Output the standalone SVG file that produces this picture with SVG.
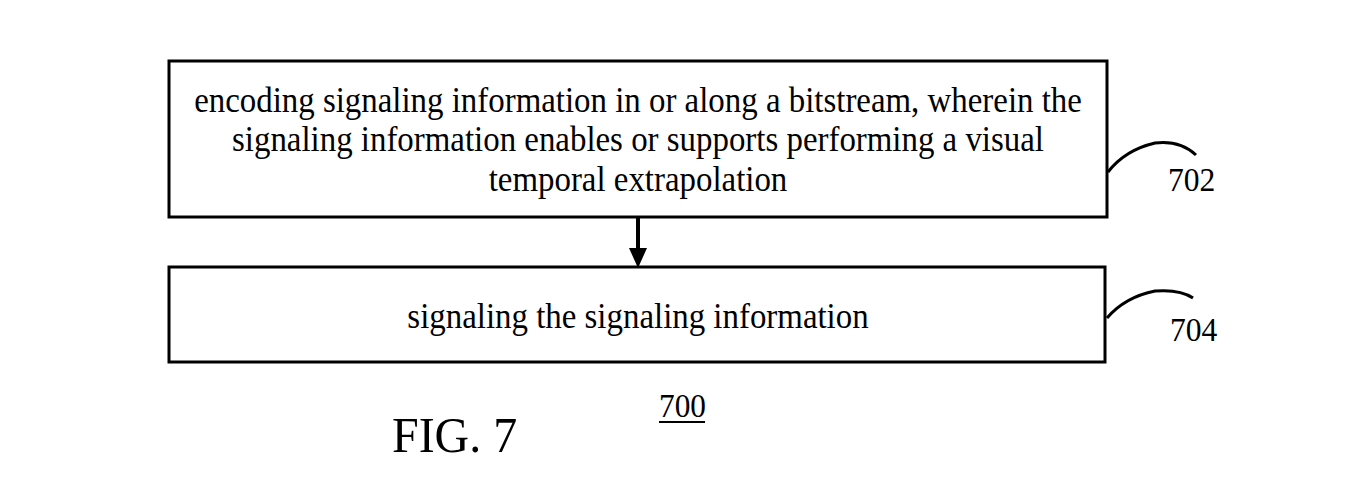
<svg xmlns="http://www.w3.org/2000/svg" width="1355" height="478" viewBox="0 0 1355 478">
<defs>
<style>
.box{fill:#fff;stroke:#000;stroke-width:3}
.t{font-family:"Liberation Serif",serif;font-size:35px;fill:#000;text-anchor:middle}
.n{font-family:"Liberation Serif",serif;font-size:34px;fill:#000}
.lead{fill:none;stroke:#000;stroke-width:3}
</style>
</defs>
<rect width="1355" height="478" fill="#fff"/>
<g id="connectors">
<line x1="638" y1="218" x2="638" y2="250" stroke="#000" stroke-width="4"/>
<polygon points="629,248 647,248 638,268" fill="#000"/>
</g>
<g id="node702">
<rect class="box" x="169" y="61" width="938" height="156"/>
<text class="t" transform="translate(638,112) scale(0.94,1)">encoding signaling information in or along a bitstream, wherein the</text>
<text class="t" transform="translate(638,151) scale(0.94,1)">signaling information enables or supports performing a visual</text>
<text class="t" transform="translate(638,191) scale(0.94,1)">temporal extrapolation</text>
<path class="lead" d="M1108,172 Q1125,150 1155,143 Q1180,140 1196,155"/>
<text class="n" transform="translate(1168,191) scale(0.93,1)">702</text>
</g>
<g id="node704">
<rect class="box" x="169" y="267" width="936" height="95"/>
<text class="t" transform="translate(638,328) scale(0.94,1)">signaling the signaling information</text>
<path class="lead" d="M1107,318 Q1125,297 1155,291 Q1180,289 1193,298"/>
<text class="n" transform="translate(1170,341) scale(0.93,1)">704</text>
</g>
<g id="caption">
<text transform="translate(392,452) scale(0.94,1)" font-family="Liberation Serif, serif" font-size="51" fill="#000">FIG. 7</text>
<text transform="translate(659,417) scale(0.95,1)" font-family="Liberation Serif, serif" font-size="33" fill="#000">700</text>
<line x1="659" y1="422" x2="705" y2="422" stroke="#000" stroke-width="2"/>
</g>
</svg>
